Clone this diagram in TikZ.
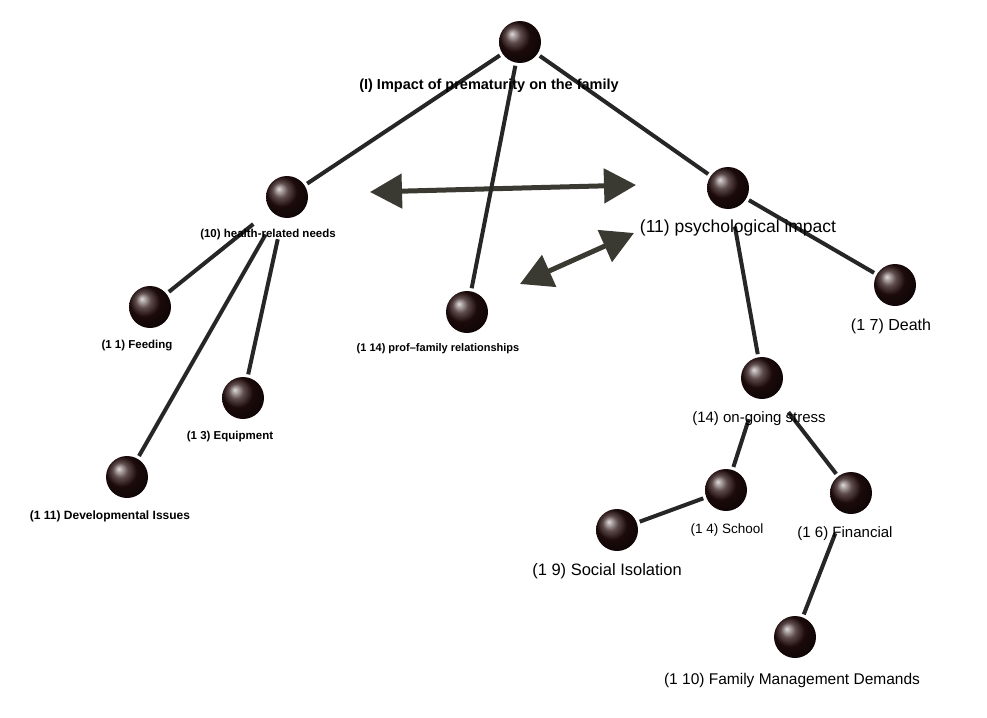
\documentclass[tikz,border=0pt]{standalone}
\usepackage{fontspec}
\setmainfont{Liberation Sans}
\usetikzlibrary{arrows.meta}
\definecolor{arrowcol}{RGB}{58,58,50}
\definecolor{ballcol}{RGB}{40,15,15}
\begin{document}
\begin{tikzpicture}[x=1pt,y=-1pt,
  ballnode/.style={circle,minimum size=42pt,inner sep=0pt,shading=ball,ball color=ballcol},
  smalllab/.style={font=\fontsize{11.5}{13}\selectfont\bfseries,inner sep=1pt},
  biglab/.style={inner sep=1pt},
  edge/.style={line width=4pt,draw=black!85,shorten <=3pt,shorten >=3pt},
  dbl/.style={line width=5pt,draw=arrowcol,fill=arrowcol,{Triangle[width=34pt,length=32pt]}-{Triangle[width=34pt,length=32pt]}}
]
\useasboundingbox (0,0) rectangle (987,717);
% balls
\node[ballnode] (root) at (520,42) {};
\node[ballnode] (health) at (287,197) {};
\node[ballnode] (feed) at (150,307) {};
\node[ballnode] (equip) at (243,398) {};
\node[ballnode] (dev) at (127,477) {};
\node[ballnode] (prof) at (467,312) {};
\node[ballnode] (psych) at (728,188) {};
\node[ballnode] (death) at (895,285) {};
\node[ballnode] (stress) at (762,378) {};
\node[ballnode] (school) at (726,490) {};
\node[ballnode] (fin) at (851,493) {};
\node[ballnode] (social) at (617,530) {};
\node[ballnode] (fam) at (795,637) {};
% double arrows
\coordinate (a1) at (370,192);
\coordinate (a2) at (636,185);
\coordinate (b1) at (520,284);
\coordinate (b2) at (634,233);
\draw[dbl] (a1) -- (a2);
\draw[dbl] (b1) -- (b2);
% edges
\draw[edge] (root) -- (health);
\draw[edge] (root) -- (prof);
\draw[edge] (root) -- (psych);
\draw[edge,shorten <=22pt] (health) -- (feed);
\draw[edge,shorten <=22pt] (health) -- (equip);
\draw[edge,shorten <=22pt] (health) -- (dev);
\draw[edge] (psych) -- (death);
\draw[edge,shorten <=18pt] (psych) -- (stress);
\draw[edge,shorten <=22pt] (stress) -- (school);
\draw[edge,shorten <=22pt] (stress) -- (fin);
\draw[edge] (school) -- (social);
\draw[edge,shorten <=22pt] (fin) -- (fam);
% labels
\node[smalllab,font=\fontsize{14.5}{16}\selectfont\bfseries] (lroot) at (489,86) {(I) Impact of prematurity on the family};
\node[smalllab] (lhealth) at (268,235) {(10) health-related needs};
\node[smalllab] (lfeed) at (137,346) {(1 1) Feeding};
\node[smalllab] (lequip) at (230,437) {(1 3) Equipment};
\node[smalllab,font=\fontsize{12}{14}\selectfont\bfseries] (ldev) at (110,516) {(1 11) Developmental Issues};
\node[smalllab,font=\fontsize{11}{13}\selectfont\bfseries] (lprof) at (438,349) {(1 14) prof–family relationships};
\node[biglab,font=\fontsize{17.5}{19}\selectfont] (lpsych) at (738,228) {(11) psychological impact};
\node[biglab,font=\fontsize{16}{18}\selectfont] (ldeath) at (891,326) {(1 7) Death};
\node[biglab,font=\fontsize{15}{17}\selectfont] (lstress) at (759,419) {(14) on-going stress};
\node[biglab,font=\fontsize{13.5}{15}\selectfont] (lschool) at (727,530) {(1 4) School};
\node[biglab,font=\fontsize{15}{17}\selectfont] (lfin) at (845,534) {(1 6) Financial};
\node[biglab,font=\fontsize{16.5}{18}\selectfont] (lsocial) at (607,571) {(1 9) Social Isolation};
\node[biglab,font=\fontsize{15.5}{17}\selectfont] (lfam) at (792,680) {(1 10) Family Management Demands};
\end{tikzpicture}
\end{document}
